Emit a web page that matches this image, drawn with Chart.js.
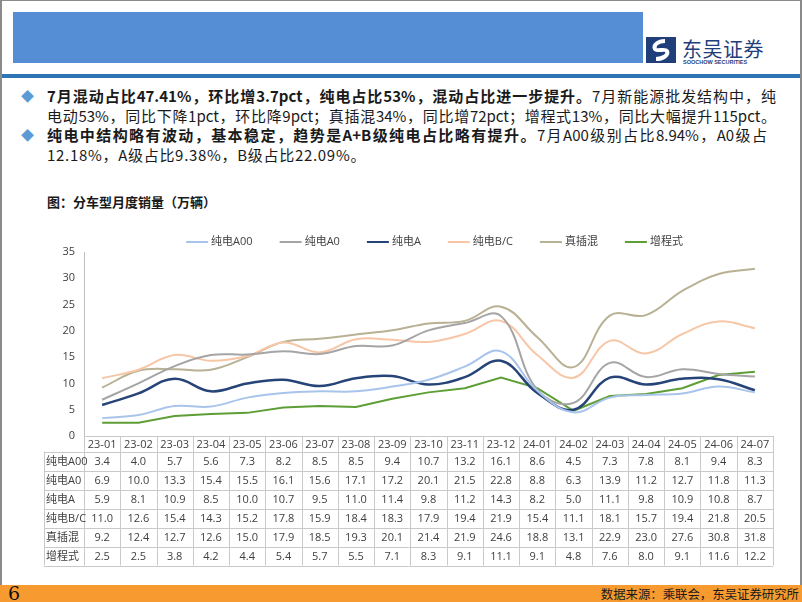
<!DOCTYPE html>
<html>
<head>
<meta charset="utf-8">
<script src="https://cdn.jsdelivr.net/npm/chart.js@4.4.1/dist/chart.umd.min.js"></script>
<style>
  html, body { margin: 0; padding: 0; background: #fff; }
  body { width: 802px; height: 602px; position: relative; overflow: hidden;
         font-family: "Noto Sans CJK SC", "Open Sans", sans-serif; color: #1a1a1a; }
  .frame { position: absolute; left: 0; top: 0; width: 798px; height: 601px;
           border-left: 2px solid #8a8a8a; border-right: 2px solid #8a8a8a; border-top: 1px solid #8a8a8a; }
  .banner { position: absolute; left: 13px; top: 12px; width: 630px; height: 51px; background: #558ed5; }
  .rule { position: absolute; left: 2px; top: 74px; width: 798px; height: 4px; background: #2e75b6; }
  .logo { position: absolute; left: 646px; top: 37px; }
  .logo .cn { position: absolute; left: 36px; top: -3px; font-size: 20px; color: #1f3e7a; white-space: nowrap; letter-spacing: 0.5px; }
  .logo .en { position: absolute; left: 37px; top: 22px; font-size: 5.5px; font-weight: bold; color: #1f3e7a; white-space: nowrap; font-family: "Liberation Sans", sans-serif; }
  .bullet { position: absolute; left: 21px; font-size: 13px; color: #5b9bd5; }
  .line { position: absolute; left: 47px; font-size: 15px; white-space: nowrap; line-height: 20px; }
  .line.full { width: 729px; text-align: justify; text-align-last: justify; text-justify: inter-character; }
  .line b { font-weight: bold; }
  .title { position: absolute; left: 47px; top: 192px; font-size: 13px; font-weight: bold; white-space: nowrap; }
  .footer { position: absolute; left: 0; top: 585px; width: 802px; height: 17px; background: #f79a30; }
  .footer .pg { position: absolute; left: 8px; top: -3px; font-family: "DejaVu Serif", serif; font-size: 19px; color: #111; }
  .footer .src { position: absolute; right: 3px; top: 0px; font-size: 12.4px; color: #1a1a1a; white-space: nowrap; }
  canvas { position: absolute; left: 0; top: 225px; }
</style>
</head>
<body>
<div class="frame"></div>
<div class="banner"></div>
<div class="logo">
  <svg width="30" height="26" viewBox="0 0 30 26">
    <rect x="0" y="0" width="30" height="26" fill="#1f3e7a"/>
    <path d="M19 4 C12 4 7 8 9 12 C11 15 19 11 21 14 C23 18 17 22 10 22" stroke="#fff" stroke-width="4" fill="none"/>
  </svg>
  <div class="cn">东吴证券</div>
  <div class="en">SOOCHOW SECURITIES</div>
</div>
<div class="rule"></div>

<div class="bullet" style="top:86px">◆</div>
<div class="line full" style="top:86px"><b>7月混动占比47.41%，环比增3.7pct，纯电占比53%，混动占比进一步提升。</b>7月新能源批发结构中，纯</div>
<div class="line full" style="top:106px">电动53%，同比下降1pct，环比降9pct；真插混34%，同比增72pct；增程式13%，同比大幅提升115pct。</div>
<div class="bullet" style="top:125px">◆</div>
<div class="line full" style="top:125px; width:720px"><b>纯电中结构略有波动，基本稳定，趋势是A+B级纯电占比略有提升。</b>7月A00级别占比8.94%，A0级占</div>
<div class="line" style="top:145px; letter-spacing: 0.7px">12.18%，A级占比9.38%，B级占比22.09%。</div>

<div class="title">图：分车型月度销量（万辆）</div>

<canvas id="salesChart" width="802" height="345"></canvas>

<div class="footer">
  <div class="pg">6</div>
  <div class="src">数据来源：乘联会，东吴证券研究所</div>
</div>

<script>
var months = ['23-01','23-02','23-03','23-04','23-05','23-06','23-07','23-08','23-09','23-10',
              '23-11','23-12','24-01','24-02','24-03','24-04','24-05','24-06','24-07'];
var bevA00 = [3.4, 4.0, 5.7, 5.6, 7.3, 8.2, 8.5, 8.5, 9.4, 10.7, 13.2, 16.1, 8.6, 4.5, 7.3, 7.8, 8.1, 9.4, 8.3];
var bevA0  = [6.9, 10.0, 13.3, 15.4, 15.5, 16.1, 15.6, 17.1, 17.2, 20.1, 21.5, 22.8, 8.8, 6.3, 13.9, 11.2, 12.7, 11.8, 11.3];
var bevA   = [5.9, 8.1, 10.9, 8.5, 10.0, 10.7, 9.5, 11.0, 11.4, 9.8, 11.2, 14.3, 8.2, 5.0, 11.1, 9.8, 10.9, 10.8, 8.7];
var bevBC  = [11.0, 12.6, 15.4, 14.3, 15.2, 17.8, 15.9, 18.4, 18.3, 17.9, 19.4, 21.9, 15.4, 11.1, 18.1, 15.7, 19.4, 21.8, 20.5];
var phev   = [9.2, 12.4, 12.7, 12.6, 15.0, 17.9, 18.5, 19.3, 20.1, 21.4, 21.9, 24.6, 18.8, 13.1, 22.9, 23.0, 27.6, 30.8, 31.8];
var erev   = [2.5, 2.5, 3.8, 4.2, 4.4, 5.4, 5.7, 5.5, 7.1, 8.3, 9.1, 11.1, 9.1, 4.8, 7.6, 8.0, 9.1, 11.6, 12.2];

var seriesNames = ['纯电A00', '纯电A0', '纯电A', '纯电B/C', '真插混', '增程式'];
var seriesData = [bevA00, bevA0, bevA, bevBC, phev, erev];
var seriesColors = ['#a9c4eb', '#a5a5a5', '#264478', '#f7c6a6', '#b8b194', '#5e9e36'];
var yTicks = [0, 5, 10, 15, 20, 25, 30, 35];

Chart.defaults.font.family = "'Open Sans', 'Noto Sans CJK SC', sans-serif";
Chart.defaults.font.size = 11;
Chart.defaults.color = '#404040';

var datasets = [];
for (var i = 0; i < seriesNames.length; i++) {
    datasets.push({
        label: seriesNames[i],
        data: seriesData[i],
        borderColor: seriesColors[i],
        backgroundColor: seriesColors[i],
        borderWidth: i === 2 ? 2.5 : 2,
        pointRadius: 0,
        tension: i === 5 ? 0 : 0.4,
        fill: false
    });
}

// legend line + text drawn above the plot
var legendPlugin = {
    id: 'lineLegend',
    afterDraw: function (chart) {
        var ctx = chart.ctx;
        var area = chart.chartArea;
        var y = area.top - 10;
        ctx.save();
        ctx.font = "11px 'Open Sans', 'Noto Sans CJK SC', sans-serif";
        var widths = [];
        var total = 0;
        for (var i = 0; i < datasets.length; i++) {
            var w = 22 + 3 + ctx.measureText(datasets[i].label).width;
            widths.push(w);
            total += w;
        }
        var gap = 27;
        total += gap * (datasets.length - 1);
        var x = (area.left + area.right) / 2 + 6 - total / 2;
        ctx.textBaseline = 'middle';
        ctx.textAlign = 'left';
        for (var j = 0; j < datasets.length; j++) {
            ctx.strokeStyle = datasets[j].borderColor;
            ctx.lineWidth = 2;
            ctx.beginPath();
            ctx.moveTo(x, y);
            ctx.lineTo(x + 22, y);
            ctx.stroke();
            ctx.fillStyle = '#404040';
            ctx.fillText(datasets[j].label, x + 25, y);
            x += widths[j] + gap;
        }
        ctx.restore();
    }
};

// data table under the plot, columns follow the category scale
var tablePlugin = {
    id: 'dataTable',
    afterDraw: function (chart) {
        var ctx = chart.ctx;
        var xs = chart.scales.x;
        var area = chart.chartArea;
        var n = months.length;
        var colW = (area.right - area.left) / n;
        var headH = 15.5;
        var rowH = 19;
        var top = area.bottom;
        var labelLeft = 44;
        var bottom = top + headH + rowH * seriesNames.length;
        ctx.save();
        ctx.strokeStyle = '#c9c9c9';
        ctx.lineWidth = 1;
        ctx.beginPath();
        ctx.moveTo(area.left, top + 0.5);
        ctx.lineTo(area.right, top + 0.5);
        for (var c = 0; c <= n; c++) {
            var vx = Math.round(area.left + c * colW) + 0.5;
            ctx.moveTo(vx, top);
            ctx.lineTo(vx, bottom);
        }
        for (var r = 0; r <= seriesNames.length; r++) {
            var hy = Math.round(top + headH + r * rowH) + 0.5;
            ctx.moveTo(labelLeft, hy);
            ctx.lineTo(area.right, hy);
        }
        ctx.moveTo(labelLeft + 0.5, top + headH);
        ctx.lineTo(labelLeft + 0.5, bottom);
        ctx.stroke();

        ctx.fillStyle = '#404040';
        ctx.font = "11px 'Open Sans', 'Noto Sans CJK SC', sans-serif";
        ctx.textBaseline = 'middle';
        ctx.textAlign = 'center';
        for (var k = 0; k < n; k++) {
            var cx = xs.getPixelForValue(k);
            ctx.fillText(months[k], cx, top + headH / 2 + 1.5);
            for (var s = 0; s < seriesData.length; s++) {
                ctx.fillText(seriesData[s][k].toFixed(1), cx, top + headH + rowH * s + rowH / 2 + 0.5);
            }
        }
        ctx.textAlign = 'left';
        for (var t = 0; t < seriesNames.length; t++) {
            ctx.fillText(seriesNames[t], labelLeft + 2, top + headH + rowH * t + rowH / 2 + 0.5);
        }
        ctx.restore();
    }
};

var salesChart = new Chart(document.getElementById('salesChart'), {
    type: 'line',
    data: { labels: months, datasets: datasets },
    options: {
        responsive: false,
        animation: false,
        layout: { padding: { top: 27, bottom: 134, left: 0, right: 29 } },
        plugins: { legend: { display: false }, tooltip: { enabled: false } },
        scales: {
            x: { type: 'category', offset: true, display: false },
            y: {
                min: 0, max: 35,
                afterBuildTicks: function (scale) {
                    scale.ticks = yTicks.map(function (v) { return { value: v }; });
                },
                afterFit: function (scale) {
                    scale.width = 84;
                    scale.paddingTop = 0;
                    scale.paddingBottom = 0;
                },
                grid: { display: false, drawTicks: false },
                border: { color: '#bfbfbf', width: 1 },
                ticks: { padding: 9, color: '#404040', font: { size: 11 } }
            }
        }
    },
    plugins: [legendPlugin, tablePlugin]
});
</script>
</body>
</html>
